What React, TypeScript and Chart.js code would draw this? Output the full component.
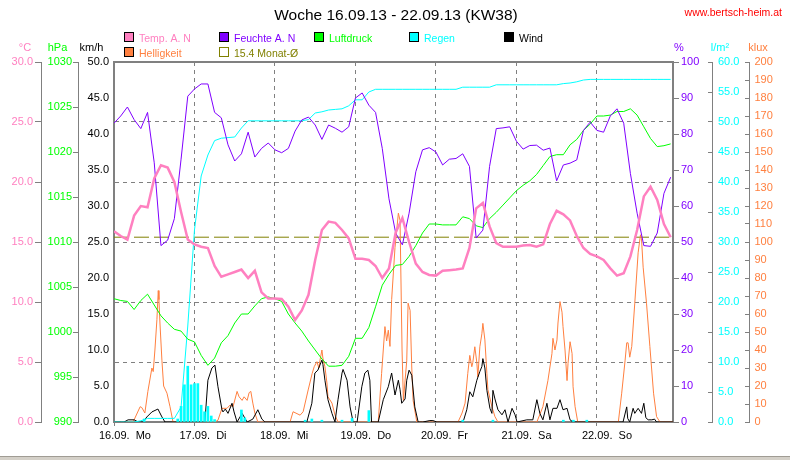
import React, { useEffect, useRef } from "react";
import { Chart, registerables } from "chart.js";

Chart.register(...registerables);

// ---------- text ----------
const TITLE = "Woche 16.09.13 - 22.09.13 (KW38)";
const SITE = "www.bertsch-heim.at";
const dayLabels = ["16.09.  Mo", "17.09.  Di", "18.09.  Mi", "19.09.  Do", "20.09.  Fr", "21.09.  Sa", "22.09.  So"];
const HOURS_PER_DAY = 24;
const X_MAX = 166.7; // last reading, hours after 16.09. 00:00

// ---------- 2-hourly series (h = 0, 2, 4 ... 166) ----------
const SAMPLE_STEP = 2;
const tempValues = [
  15.9, 15.5, 15.2, 17.2, 18.0, 17.9, 20.3, 21.4, 21.2, 20.0, 17.5, 15.2,
  14.8, 14.6, 14.5, 13.0, 12.1, 12.3, 12.5, 12.7, 12.0, 12.6, 10.8, 10.3,
  10.3, 10.25, 9.6, 8.5, 9.3, 10.6, 13.5, 16.0, 16.7, 16.6, 16.0, 15.3,
  13.6, 13.6, 13.5, 13.0, 12.0, 12.8, 15.8, 17.0, 15.0, 13.2, 12.5, 12.25,
  12.2, 12.6, 12.65, 12.7, 12.8, 14.5, 17.8, 18.25, 16.3, 14.9, 14.6, 14.6,
  14.6, 14.7, 14.75, 14.6, 14.8, 16.5, 17.6, 17.3, 16.8, 15.5, 14.5, 14.0,
  13.8, 13.5, 12.8, 12.2, 12.4, 13.8, 16.0, 18.8, 19.6, 18.5, 16.5, 15.4,
];
const humidityValues = [
  83.0, 85.0, 87.5, 84.0, 81.5, 86.0, 72.0, 49.0, 50.5, 56.5, 73.0, 90.5,
  92.5, 93.9, 93.9, 86.0, 84.5, 77.0, 72.5, 74.5, 80.5, 73.6, 76.0, 77.5,
  75.6, 74.8, 76.0, 80.8, 83.9, 84.7, 82.5, 78.5, 82.5, 81.6, 80.5, 82.0,
  90.0, 91.4, 88.0, 86.0, 76.0, 62.0, 52.5, 49.2, 58.0, 69.5, 75.6, 76.2,
  75.0, 71.4, 73.0, 73.2, 74.5, 71.0, 51.1, 53.3, 71.0, 81.5, 81.7, 82.0,
  78.0, 75.8, 76.8, 76.9, 75.5, 76.1, 67.0, 71.4, 71.9, 72.8, 81.0, 83.3,
  81.0, 80.5, 85.0, 87.0, 83.0, 69.0, 58.0, 49.0, 48.8, 52.5, 63.5, 68.0,
];
const pressureValues = [
  1003.7, 1003.5, 1003.4, 1002.5, 1003.5, 1004.2, 1003.0, 1001.8, 1001.0, 1000.3, 1000.1, 999.2,
  998.9, 997.4, 996.3, 997.1, 998.8, 999.6, 1001.0, 1002.0, 1002.0, 1002.9, 1003.7, 1003.9,
  1003.7, 1003.4, 1002.0, 1001.0, 1000.1, 999.0, 998.0, 997.0, 996.2, 996.2, 996.3, 997.3,
  999.3, 999.3, 1000.5, 1002.8, 1005.2, 1006.4, 1007.4, 1007.5, 1008.4, 1009.6, 1011.0, 1012.0,
  1012.0, 1011.9, 1011.9, 1011.9, 1012.8, 1012.6, 1011.8, 1011.6, 1012.6, 1013.3, 1014.1, 1014.9,
  1015.7, 1016.3, 1016.8, 1017.5, 1018.5, 1019.5, 1019.7, 1019.7, 1020.8, 1021.4, 1022.4, 1023.1,
  1024.0, 1024.0, 1024.1, 1024.5, 1024.5, 1024.8, 1024.1, 1022.8, 1021.5, 1020.6, 1020.7, 1020.9,
];
const rainTotalValues = [
  0, 0, 0, 0, 0.2, 0.6, 0.6, 0.6, 0.6, 0.6,
  2.5, 16.0, 32.0, 41.0, 44.5, 46.9, 47.3, 47.4, 47.5, 49.0,
  50.2, 50.2, 50.2, 50.2, 50.2, 50.2, 50.2, 50.2, 50.2,
  50.4, 51.5, 51.7, 52.0, 52.1, 52.2, 52.7, 53.7, 53.7, 55.0,
  55.45, 55.45, 55.45, 55.45, 55.45, 55.45, 55.45, 55.45, 55.45, 55.45, 55.45, 55.45, 55.45,
  55.8, 55.8, 55.8, 55.8, 55.8,
  56.2, 56.2, 56.2, 56.2, 56.2, 56.2, 56.2, 56.2, 56.2, 56.2,
  56.4, 56.5, 56.7, 57.0,
  57.1, 57.1, 57.1, 57.1, 57.1, 57.1, 57.1, 57.1, 57.1, 57.1, 57.1, 57.1, 57.1,
];

// ---------- hourly rain amounts (l/m²) ----------
const rainBarHours = [9, 19, 20, 21, 22, 23, 24, 25, 26, 27, 28, 29, 30, 38, 39, 57, 59, 62, 68, 71, 76, 104, 113, 134, 137, 141];
const rainBarValues = [0.5, 0.5, 2.6, 6.2, 9.3, 6.2, 6.4, 6.4, 2.8, 1.7, 2.6, 1.0, 0.4, 2.0, 0.7, 0.3, 0.5, 0.3, 0.3, 0.6, 1.9, 0.3, 0.3, 0.3, 0.3, 0.3];

// ---------- wind (km/h), irregular readings ----------
const windHours = [
  0, 3.0, 4.2, 6.0, 7.2, 8.6, 9.8, 11.3, 13.1, 14.3, 15.2,
  27.1, 28.0, 29.2, 30.1, 31.0, 32.2, 32.5, 33.2, 34.0, 35.2, 35.8, 36.7, 38.2, 39.7, 41.4, 42.9, 44.1, 45.0,
  57.5, 59.0, 59.9, 60.8, 62.0, 62.3, 62.9, 63.8, 65.0, 65.9, 66.8, 68.0, 68.3, 69.5, 70.4, 71.3,
  72.5, 73.9, 74.8, 75.7, 76.3, 76.8, 78.8, 80.3, 81.8, 82.8, 83.8, 84.8, 85.3, 85.8, 86.8, 87.3, 88.0, 88.8, 89.7, 90.7,
  92.1, 94.2, 95.1, 96.3,
  104.1, 105.2, 106.1, 107.0, 108.2, 109.1, 109.7, 110.0, 110.6, 111.2, 112.1, 112.7, 113.0, 113.6, 114.5, 115.7, 116.6, 117.5, 118.7, 119.6, 120.2,
  123.1, 124.9, 126.1, 127.0, 127.9, 129.1, 130.0, 130.9, 132.1, 133.0, 133.9, 135.1, 136.0, 136.9,
  151.8, 152.9, 153.2, 153.8, 154.8, 155.3, 156.3, 157.3, 158.0, 158.6, 159.3, 160.4, 161.2, 161.8, 166.7,
];
const windValues = [
  0, 0, 0.3, 0.3, 0, 0, 0.7, 1.4, 1.8, 0.7, 0,
  0, 5.8, 7.5, 7.9, 4.9, 1.7, 1.4, 1.8, 1.2, 2.6, 1.4, 0, 1.2, 0, 0.4, 1.7, 0.4, 0,
  0, 2.6, 6.8, 7.2, 8.6, 8.0, 5.8, 3.1, 1.2, 0, 3.1, 6.8, 7.3, 5.8, 2.1, 0,
  0, 4.9, 6.8, 7.2, 5.8, 0, 0, 3.1, 4.9, 6.8, 3.75, 5.8, 4.5, 2.6, 3.2, 5.8, 7.2, 6.5, 2.1, 0,
  0, 0.2, 0.2, 0,
  0, 1.7, 4.2, 3.5, 5.8, 7.0, 7.7, 8.8, 7.5, 4.4, 1.9, 1.2, 4.4, 3.2, 1.7, 1.0, 1.7, 0, 1.9, 1.0, 0,
  0.3, 0.3, 3.1, 1.2, 0.3, 2.6, 0.3, 1.9, 1.9, 3.1, 1.7, 1.9, 0.3, 0,
  0, 2.1, 0.5, 0, 1.9, 1.2, 1.9, 1.2, 2.6, 0.6, 0.3, 0.3, 0.4, 0, 0,
];

// ---------- brightness (klux), irregular readings ----------
const lightHours = [
  0, 5.7, 7.8, 8.3, 9.2, 10.1, 11.3, 11.7, 12.2, 12.8, 13.2, 13.4, 13.7, 14.3, 14.8, 15.8, 16.7, 17.6,
  30.1, 31.0, 32.2, 33.7, 34.6, 35.5, 36.7, 37.3, 38.2, 38.8, 39.7, 40.3, 40.8, 41.4, 42.0, 42.9,
  52.5, 53.4, 55.5, 56.4, 57.9, 59.1, 59.7, 60.5, 61.1, 61.4, 62.0, 62.3, 62.9, 63.5, 63.8, 65.0, 65.9, 66.8,
  78.8, 79.8, 80.3, 80.8, 81.3, 81.8, 82.3, 82.8, 83.8, 84.8, 85.3, 85.9, 86.3, 87.3, 87.7, 88.3, 88.8, 89.2, 90.3,
  102.6, 103.8, 104.7, 105.5, 106.1, 106.7, 107.0, 107.6, 108.2, 108.5, 109.1, 109.7, 110.0, 110.6, 111.2, 111.5, 112.7, 113.6, 114.5,
  126.1, 127.9, 129.4, 130.6, 130.9, 131.5, 132.1, 132.4, 133.0, 133.6, 133.9, 134.5, 135.1, 135.4, 136.0, 136.6, 136.9, 137.5, 138.3,
  150.4, 151.4, 152.4, 152.9, 153.3, 153.8, 154.4, 155.3, 156.3, 157.0, 157.3, 157.8, 158.8, 159.8, 160.9, 161.8, 162.8, 166.7,
];
const lightValues = [
  0, 0, 8.5, 8.0, 5.0, 17, 30, 28, 40, 57, 73, 68, 55, 34, 20, 16, 8.5, 0,
  0, 1, 7.6, 7.6, 9.4, 8.5, 17, 14, 12, 14, 12, 16.3, 17, 10.5, 5, 0,
  0, 5.7, 3.8, 5.7, 17.8, 27, 30.7, 33.5, 30, 34, 40, 35.5, 30.7, 21.7, 14, 10.5, 3.9, 0,
  0, 27, 40, 53, 45, 51, 42, 68, 97, 116, 112, 40, 12, 34, 66, 62, 30, 12, 0,
  0, 5, 10.5, 27, 37, 30.7, 33, 41.8, 33, 25, 41.8, 49, 54.8, 45.6, 27, 18, 8.5, 3, 0,
  0, 8.5, 23, 38, 46.5, 40, 45.6, 55, 66.9, 61, 53, 40, 23, 32.6, 44.6, 38, 19.6, 8.5, 0,
  0, 16, 34, 44, 44, 36, 42, 66, 94, 104, 102, 86, 66, 42, 16, 3, 0, 0,
];

const MONTH_AVG_TEMP = 15.4;

// ---------- styling ----------
const FONT = "'Liberation Sans', Arial, sans-serif";
const PINK = "#ff80c0";
const PURPLE = "#8000ff";
const GREEN = "#00ff00";
const CYAN = "#00ffff";
const ORANGE = "#ff8040";
const OLIVE = "#808000";
const GRAY = "#808080";

const sampled = (vals: number[]) => vals.map((v, i) => ({ x: i * SAMPLE_STEP, y: v }));
const paired = (xs: number[], ys: number[]) => xs.map((x, i) => ({ x, y: ys[i] }));

const legendRows = [
  [
    { label: "Temp. A. N", color: PINK, text: PINK },
    { label: "Feuchte A. N", color: PURPLE, text: PURPLE },
    { label: "Luftdruck", color: GREEN, text: GREEN },
    { label: "Regen", color: CYAN, text: CYAN },
    { label: "Wind", color: "#000000", text: "#000000" },
  ],
  [
    { label: "Helligkeit", color: ORANGE, text: ORANGE },
    { label: MONTH_AVG_TEMP.toFixed(1) + " Monat-Ø", color: null, text: OLIVE },
  ],
];

const unitLabels = [
  { text: "°C", x: 25, color: PINK },
  { text: "hPa", x: 57.5, color: GREEN },
  { text: "km/h", x: 91.5, color: "#000000" },
  { text: "%", x: 679, color: PURPLE },
  { text: "l/m²", x: 720, color: CYAN },
  { text: "klux", x: 758, color: ORANGE },
];

const headerPlugin = {
  id: "header",
  beforeDraw(chart: any) {
    const ctx = chart.ctx;
    ctx.save();
    ctx.fillStyle = "#ffffff";
    ctx.fillRect(0, 0, chart.width, chart.height);
    ctx.restore();
  },
  afterDraw(chart: any) {
    const ctx = chart.ctx;
    const area = chart.chartArea;
    ctx.save();
    // frame top line
    ctx.strokeStyle = GRAY;
    ctx.lineWidth = 2;
    ctx.beginPath();
    ctx.moveTo(area.left - 1, area.top);
    ctx.lineTo(area.right + 1, area.top);
    ctx.stroke();

    // title
    ctx.fillStyle = "#000000";
    ctx.font = `15.5px ${FONT}`;
    ctx.textAlign = "center";
    ctx.textBaseline = "alphabetic";
    ctx.fillText(TITLE, 396, 20);

    // site
    ctx.fillStyle = "#ff0000";
    ctx.font = `10.5px ${FONT}`;
    ctx.textAlign = "right";
    ctx.fillText(SITE, 782, 16);

    // legend
    ctx.font = `10.5px ${FONT}`;
    ctx.textAlign = "left";
    legendRows.forEach((row, r) => {
      const boxY = 32 + r * 15;
      row.forEach((item, i) => {
        const bx = 124 + i * 95;
        if (item.color) {
          ctx.fillStyle = item.color;
          ctx.fillRect(bx, boxY, 10, 10);
          ctx.strokeStyle = "#000000";
        } else {
          ctx.strokeStyle = OLIVE;
        }
        ctx.lineWidth = 1;
        ctx.strokeRect(bx + 0.5, boxY + 0.5, 9, 9);
        ctx.fillStyle = item.text;
        ctx.fillText(item.label, bx + 15, boxY + 9.5);
      });
    });

    // axis unit labels
    ctx.font = `11px ${FONT}`;
    ctx.textAlign = "center";
    unitLabels.forEach((u) => {
      ctx.fillStyle = u.color;
      ctx.fillText(u.text, u.x, 51);
    });

    // window bottom strip
    ctx.fillStyle = "#d4d0c8";
    ctx.fillRect(0, 456, chart.width, 4);
    ctx.fillStyle = "#a09c94";
    ctx.fillRect(0, 456, chart.width, 1);
    ctx.restore();
  },
};

const fixedWidth = (w: number) => (s: any) => {
  s.width = w;
};

export default function App() {
  const canvasRef = useRef<HTMLCanvasElement | null>(null);

  useEffect(() => {
    if (!canvasRef.current) return;
    Chart.defaults.font.family = FONT;
    Chart.defaults.font.size = 11;

    const chart = new Chart(canvasRef.current, {
      type: "line",
      data: {
        datasets: [
          {
            label: "Temp. A. N",
            data: sampled(tempValues),
            yAxisID: "yT",
            borderColor: PINK,
            borderWidth: 2.5,
            pointRadius: 0,
            tension: 0,
          },
          {
            label: "Feuchte A. N",
            data: sampled(humidityValues),
            yAxisID: "yH",
            borderColor: PURPLE,
            borderWidth: 1,
            pointRadius: 0,
          },
          {
            label: "Luftdruck",
            data: sampled(pressureValues),
            yAxisID: "yP",
            borderColor: GREEN,
            borderWidth: 1,
            pointRadius: 0,
          },
          {
            label: "Regen",
            data: sampled(rainTotalValues),
            yAxisID: "yR",
            borderColor: CYAN,
            borderWidth: 1,
            pointRadius: 0,
          },
          {
            type: "bar",
            label: "Regen/h",
            data: paired(rainBarHours, rainBarValues),
            yAxisID: "yR",
            backgroundColor: CYAN,
            borderWidth: 0,
            barThickness: 2,
            grouped: false,
          } as any,
          {
            label: "Wind",
            data: paired(windHours, windValues),
            yAxisID: "yW",
            borderColor: "#000000",
            borderWidth: 1,
            pointRadius: 0,
          },
          {
            label: "Helligkeit",
            data: paired(lightHours, lightValues),
            yAxisID: "yL",
            borderColor: ORANGE,
            borderWidth: 1,
            pointRadius: 0,
          },
          {
            label: "Monat-Ø",
            data: [
              { x: 0, y: MONTH_AVG_TEMP },
              { x: X_MAX, y: MONTH_AVG_TEMP },
            ],
            yAxisID: "yT",
            borderColor: OLIVE,
            borderWidth: 1,
            borderDash: [15, 5],
            pointRadius: 0,
          },
        ],
      },
      options: {
        animation: false,
        responsive: false,
        maintainAspectRatio: false,
        events: [],
        layout: { padding: { top: 62, left: 0, right: 0, bottom: 0 } },
        plugins: {
          legend: { display: false },
          title: { display: false },
          tooltip: { enabled: false },
        },
        scales: {
          x: {
            type: "linear",
            position: "bottom",
            min: 0,
            max: X_MAX,
            offset: false,
            afterBuildTicks: (s: any) => {
              s.ticks = dayLabels.map((_, i) => ({ value: i * HOURS_PER_DAY }));
            },
            afterFit: (s: any) => {
              s.height = 38;
            },
            ticks: {
              callback: (v: any) => dayLabels[Math.round(Number(v) / HOURS_PER_DAY)] ?? "",
              align: "start",
              labelOffset: -15,
              color: "#000000",
              font: { size: 11 },
              padding: 3,
              maxRotation: 0,
              minRotation: 0,
              autoSkip: false,
            },
            grid: { color: GRAY, lineWidth: 1, tickLength: 4, drawOnChartArea: true, offset: false },
            border: { color: GRAY, width: 2, dash: [4, 4] },
          },
          yT: {
            type: "linear",
            position: "left",
            weight: 3,
            min: 0,
            max: 30,
            afterFit: fixedWidth(41),
            ticks: { stepSize: 5, callback: (v: any) => Number(v).toFixed(1), color: PINK, padding: 2 },
            grid: { color: GRAY, lineWidth: 1, tickLength: 6, drawOnChartArea: true, offset: false },
            border: { color: GRAY, width: 1, dash: [4, 4] },
          },
          yP: {
            type: "linear",
            position: "left",
            weight: 2,
            min: 990,
            max: 1030,
            afterFit: fixedWidth(37),
            ticks: { stepSize: 5, callback: (v: any) => String(v), color: GREEN, padding: 1 },
            grid: { color: GRAY, tickLength: 5, drawOnChartArea: false },
            border: { color: GRAY, width: 1 },
          },
          yW: {
            type: "linear",
            position: "left",
            weight: 1,
            min: 0,
            max: 50,
            afterFit: fixedWidth(36),
            ticks: { stepSize: 5, callback: (v: any) => Number(v).toFixed(1), color: "#000000", padding: 5 },
            grid: { color: GRAY, drawTicks: false, drawOnChartArea: false },
            border: { color: GRAY, width: 2 },
          },
          yH: {
            type: "linear",
            position: "right",
            weight: 1,
            min: 0,
            max: 100,
            afterFit: fixedWidth(39),
            ticks: { stepSize: 10, callback: (v: any) => String(v), color: PURPLE, padding: 2 },
            grid: { color: GRAY, tickLength: 6, drawOnChartArea: false },
            border: { color: GRAY, width: 2 },
          },
          yR: {
            type: "linear",
            position: "right",
            weight: 2,
            min: 0,
            max: 60,
            afterFit: fixedWidth(37),
            ticks: { stepSize: 5, callback: (v: any) => Number(v).toFixed(1), color: CYAN, padding: 10 },
            grid: { color: GRAY, tickLength: -4, drawOnChartArea: false },
            border: { color: GRAY, width: 1 },
          },
          yL: {
            type: "linear",
            position: "right",
            weight: 3,
            min: 0,
            max: 200,
            afterFit: fixedWidth(41),
            ticks: { stepSize: 10, callback: (v: any) => String(v), color: ORANGE, padding: 9.5 },
            grid: { color: GRAY, tickLength: -4, drawOnChartArea: false },
            border: { color: GRAY, width: 1 },
          },
        },
      } as any,
      plugins: [headerPlugin],
    });
    return () => chart.destroy();
  }, []);

  return (
    <div style={{ position: "absolute", left: 0, top: 0, width: 790, height: 460 }}>
      <canvas ref={canvasRef} width={790} height={460} style={{ display: "block" }} />
    </div>
  );
}
